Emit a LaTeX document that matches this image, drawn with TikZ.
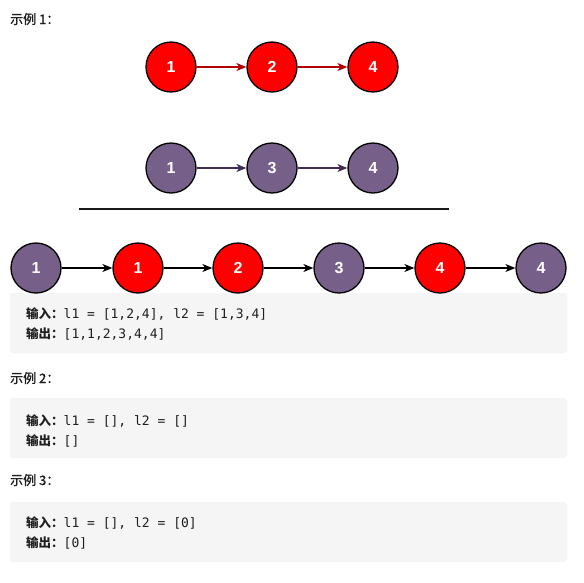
\documentclass[tikz,border=0pt]{standalone}
\usepackage{fontspec}
\setmainfont{Liberation Sans}
\newfontfamily\cjk{Noto Sans CJK SC}
\newfontfamily\cjkmed{Noto Sans CJK SC}[FakeBold=1.2]
\newfontfamily\mono{DejaVu Sans Mono}
\usetikzlibrary{arrows.meta}
\definecolor{nred}{HTML}{FF0000}
\definecolor{npurple}{HTML}{76608A}
\definecolor{ared}{HTML}{B20000}
\definecolor{apurple}{HTML}{432D57}
\definecolor{boxgray}{HTML}{F5F5F5}
\definecolor{txt}{HTML}{1F1F1F}
\tikzset{
  x=1pt,y=-1pt,
  listnode/.style={circle,draw=black,line width=1.3pt,minimum size=50pt,inner sep=0pt,
    text=white,font=\fontsize{16}{16}\selectfont\bfseries},
  rednode/.style={listnode,fill=nred},
  purpnode/.style={listnode,fill=npurple},
  link/.style={line width=1.1pt,-{Stealth[length=10pt,width=8pt,inset=3pt]}},
  title/.style={anchor=base west,inner sep=0pt,text=txt,font=\cjkmed\fontsize{13}{13}\selectfont},
  code/.style={anchor=base west,inner sep=0pt,text=txt},
  codebox/.style={fill=boxgray,draw=none,rounded corners=3pt}
}
\newcommand{\inlbl}{{\cjk\bfseries\fontsize{12.5}{12.5}\selectfont 输入：}}
\newcommand{\outlbl}{{\cjk\bfseries\fontsize{12.5}{12.5}\selectfont 输出：}}
\newcommand{\cd}[1]{{\mono\fontsize{13}{13}\selectfont #1}}
\begin{document}
\begin{tikzpicture}
\useasboundingbox (0,0) rectangle (584,582);
\fill[white] (0,0) rectangle (584,582);

% titles
\node[title] (t1) at (10,24) {示例 1：};
\node[title] (t2) at (10,383) {示例 2：};
\node[title] (t3) at (10,485) {示例 3：};

% list 1
\node[rednode] (a1) at (171,67) {1};
\node[rednode] (a2) at (272,67) {2};
\node[rednode] (a3) at (373,67) {4};
\draw[link,ared] (a1) -- (a2);
\draw[link,ared] (a2) -- (a3);

% list 2
\node[purpnode] (b1) at (171,168) {1};
\node[purpnode] (b2) at (272,168) {3};
\node[purpnode] (b3) at (373,168) {4};
\draw[link,apurple] (b1) -- (b2);
\draw[link,apurple] (b2) -- (b3);

% separator
\coordinate (s1) at (79,209);
\coordinate (s2) at (449,209);
\draw[line width=2pt,black!90] (s1) -- (s2);

% code boxes (behind merged list)
\fill[codebox] (10,293) rectangle (567,353);
\fill[codebox] (10,398) rectangle (567,458);
\fill[codebox] (10,502) rectangle (567,562);

% merged list
\node[purpnode] (c1) at (36,268) {1};
\node[rednode]  (c2) at (138,268) {1};
\node[rednode]  (c3) at (238,268) {2};
\node[purpnode] (c4) at (339,268) {3};
\node[rednode]  (c5) at (440,268) {4};
\node[purpnode] (c6) at (541,268) {4};
\draw[line width=1.1pt,ared] ([yshift=-0.7pt]c1.east) -- ([yshift=-0.7pt,xshift=-8pt]c2.west);
\draw[line width=1.1pt,ared] ([yshift=-0.7pt]c2.east) -- ([yshift=-0.7pt,xshift=-8pt]c3.west);
\draw[link,black] (c1) -- (c2);
\draw[link,black] (c2) -- (c3);
\draw[link,black] (c3) -- (c4);
\draw[link,black] (c4) -- (c5);
\draw[link,black] (c5) -- (c6);

% code text
\node[code] (e1i) at (26,318) {\inlbl\cd{l1 = [1,2,4], l2 = [1,3,4]}};
\node[code] (e1o) at (26,338) {\outlbl\cd{[1,1,2,3,4,4]}};
\node[code] (e2i) at (26,425) {\inlbl\cd{l1 = [], l2 = []}};
\node[code] (e2o) at (26,445) {\outlbl\cd{[]}};
\node[code] (e3i) at (26,527) {\inlbl\cd{l1 = [], l2 = [0]}};
\node[code] (e3o) at (26,547) {\outlbl\cd{[0]}};
\end{tikzpicture}
\end{document}
